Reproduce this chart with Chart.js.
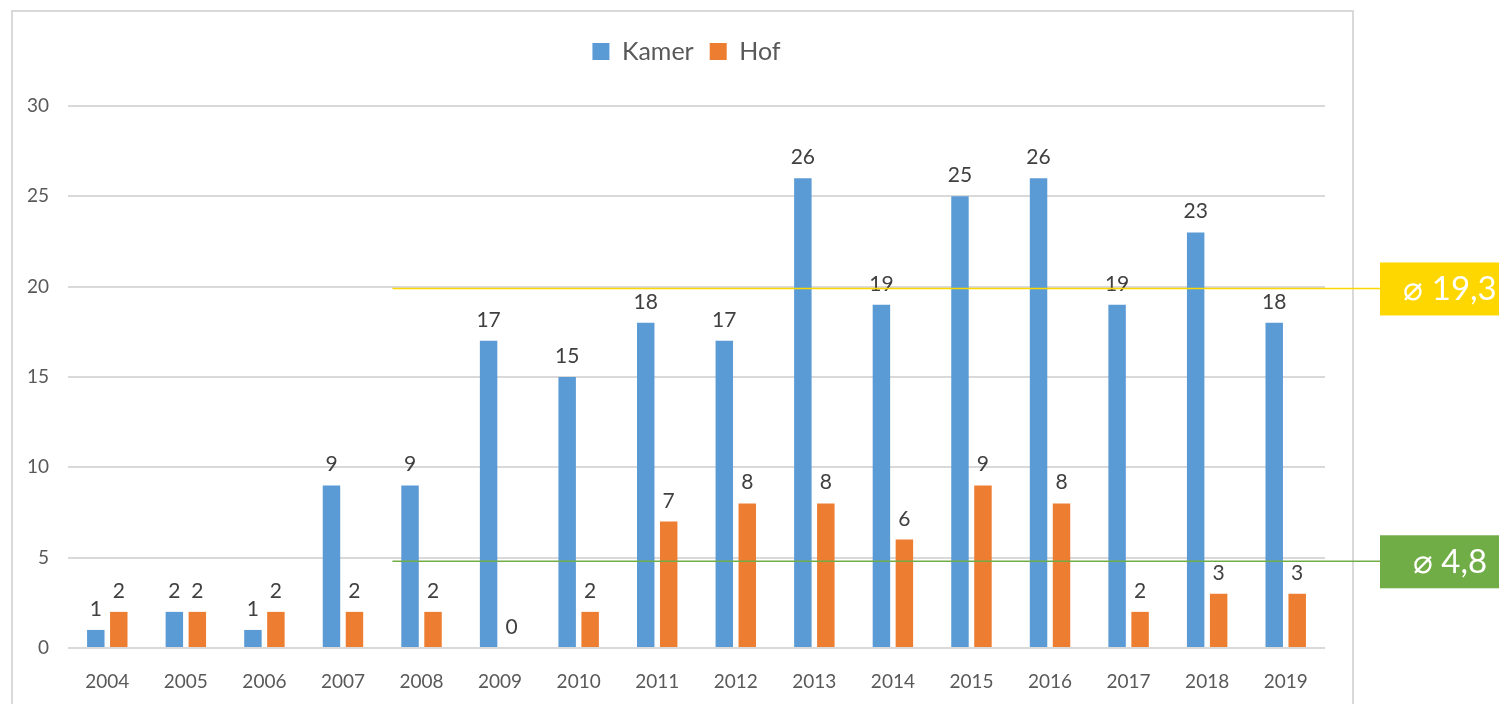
<!DOCTYPE html>
<html>
<head>
<meta charset="utf-8">
<script src="https://cdn.jsdelivr.net/npm/chart.js@4"></script>
<style>
html,body{margin:0;padding:0;background:#fff;}
#wrap{width:1499px;height:704px;}
</style>
</head>
<body>
<div id="wrap"><canvas id="chart" width="1499" height="704"></canvas></div>
<script>
var years = ['2004','2005','2006','2007','2008','2009','2010','2011','2012','2013','2014','2015','2016','2017','2018','2019'];
var kamer = [1, 2, 1, 9, 9, 17, 15, 18, 17, 26, 19, 25, 26, 19, 23, 18];
var hof = [2, 2, 2, 2, 2, 0, 2, 7, 8, 8, 6, 9, 8, 2, 3, 3];
// average lines: value where the line sits, text shown in the box
var avgValues = [19.9, 4.8];
var avgLabels = ['\u2300 19,3', '\u2300 4,8'];
var avgColors = ['#FFD700', '#70AD47'];
var yTicks = [0, 5, 10, 15, 20, 25, 30];

var fontFam = "Lato, 'Open Sans', sans-serif";

var frame = {
    id: 'frame',
    beforeDraw: function(chart) {
        var c = chart.ctx;
        c.save();
        c.strokeStyle = '#d9d9d9';
        c.lineWidth = 2;
        c.strokeRect(12, 11, 1341, 720);
        c.restore();
    }
};

var barLabels = {
    id: 'barLabels',
    afterDatasetsDraw: function(chart) {
        var c = chart.ctx;
        c.save();
        c.font = '21px ' + fontFam;
        c.fillStyle = '#404040';
        c.textAlign = 'center';
        c.textBaseline = 'alphabetic';
        chart.data.datasets.forEach(function(ds, i) {
            chart.getDatasetMeta(i).data.forEach(function(bar, j) {
                c.fillText(String(ds.data[j]), bar.x, bar.y - 14);
            });
        });
        c.restore();
    }
};

var avgLines = {
    id: 'avgLines',
    afterDraw: function(chart) {
        var c = chart.ctx;
        var x = chart.scales.x, y = chart.scales.y;
        var x0 = x.getPixelForValue(3.63);
        var boxL = 1380;
        c.save();
        avgValues.forEach(function(v, i) {
            var py = y.getPixelForValue(v);
            c.strokeStyle = avgColors[i];
            c.lineWidth = 1.5;
            c.beginPath();
            c.moveTo(x0, py);
            c.lineTo(boxL, py);
            c.stroke();
            c.fillStyle = avgColors[i];
            c.fillRect(boxL, py - 26, chart.width - boxL, 53);
            c.fillStyle = '#ffffff';
            c.font = '33px ' + fontFam;
            c.textAlign = 'center';
            c.textBaseline = 'middle';
            c.fillText(avgLabels[i], 1450, py + 1);
        });
        c.restore();
    }
};

var legendFix = {
    id: 'legendFix',
    beforeInit: function(chart) {
        var orig = chart.legend.fit;
        chart.legend.fit = function() {
            orig.bind(chart.legend)();
            this.height = 83;
        };
    },
    afterLayout: function(chart) {
        // centre the legend on the framed box rather than the plot
        chart.legend.left += 24;
        chart.legend.right += 24;
    }
};

new Chart(document.getElementById('chart').getContext('2d'), {
    type: 'bar',
    data: {
        labels: years,
        datasets: [
            {
                label: 'Kamer',
                data: kamer,
                backgroundColor: '#5B9BD5',
                categoryPercentage: 0.585,
                barPercentage: 0.76
            },
            {
                label: 'Hof',
                data: hof,
                backgroundColor: '#ED7D31',
                categoryPercentage: 0.585,
                barPercentage: 0.76
            }
        ]
    },
    options: {
        responsive: false,
        animation: false,
        layout: { padding: { left: 0, right: 174, top: 23, bottom: 0 } },
        plugins: {
            tooltip: { enabled: false },
            legend: {
                position: 'top',
                labels: {
                    font: { size: 25, family: fontFam },
                    color: '#595959',
                    boxWidth: 17,
                    boxHeight: 17,
                    padding: 16
                }
            }
        },
        scales: {
            x: {
                grid: { display: false, drawTicks: false },
                border: { display: false },
                ticks: { color: '#595959', font: { size: 19, family: fontFam }, padding: 22, maxRotation: 0 },
                afterFit: function(s) { s.height = 56; }
            },
            y: {
                min: 0,
                max: 30,
                afterBuildTicks: function(s) { s.ticks = yTicks.map(function(v) { return { value: v }; }); },
                grid: { color: '#d9d9d9', lineWidth: 2, drawTicks: false },
                border: { display: false },
                ticks: { color: '#595959', font: { size: 19, family: fontFam }, padding: 19 },
                afterFit: function(s) { s.width = 68; }
            }
        }
    },
    plugins: [frame, legendFix, barLabels, avgLines]
});
</script>
</body>
</html>
